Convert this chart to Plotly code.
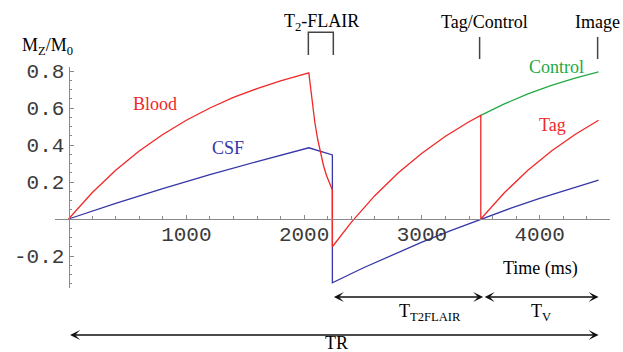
import plotly.graph_objects as go

# ---- data ----
blood_rise_t = [0, 200, 400, 600, 800, 1000, 1200, 1400, 1600, 1800, 2040]
blood_rise_m = [0.0, 0.142, 0.263, 0.368, 0.457, 0.534, 0.600, 0.657, 0.705, 0.747, 0.790]
blood_flair_t = [2040, 2065, 2090, 2115, 2140, 2165, 2190, 2215, 2240]
blood_flair_m = [0.790, 0.645, 0.527, 0.431, 0.352, 0.288, 0.235, 0.192, 0.157]
blood_rec_t = [2240, 2400, 2600, 2800, 3000, 3200, 3400, 3500]
blood_rec_m = [-0.150, -0.018, 0.126, 0.250, 0.356, 0.447, 0.526, 0.560]
tag_t = [3500, 3700, 3900, 4100, 4300, 4500]
tag_m = [0.0, 0.142, 0.263, 0.368, 0.457, 0.534]
control_t = [3500, 3700, 3900, 4100, 4300, 4500]
control_m = [0.560, 0.622, 0.676, 0.722, 0.761, 0.795]
csf_rise_t = [0, 400, 800, 1200, 1600, 2040, 2240]
csf_rise_m = [0.0, 0.085, 0.164, 0.240, 0.310, 0.385, 0.346]
csf_rec_t = [2240, 2500, 2750, 3000, 3250, 3500, 3750, 4000, 4250, 4500]
csf_rec_m = [-0.345, -0.265, -0.193, -0.125, -0.061, 0.0, 0.057, 0.111, 0.162, 0.210]

x_ticks = [1000, 2000, 3000, 4000]
x_ticklabels = ["1000", "2000", "3000", "4000"]
y_ticks = [-0.2, 0.2, 0.4, 0.6, 0.8]
y_ticklabels = ["-0.2", "0.2", "0.4", "0.6", "0.8"]

RED = "#f02828"
BLUE = "#3636a8"
GREEN = "#22aa44"

blood_t = blood_rise_t + blood_flair_t[1:] + blood_rec_t + tag_t
blood_m = blood_rise_m + blood_flair_m[1:] + blood_rec_m + tag_m
csf_t = csf_rise_t + csf_rec_t
csf_m = csf_rise_m + csf_rec_m

fig = go.Figure()
fig.add_trace(go.Scatter(x=csf_t, y=csf_m, mode="lines",
                         line=dict(color=BLUE, width=1.3), hoverinfo="skip"))
fig.add_trace(go.Scatter(x=blood_t, y=blood_m, mode="lines",
                         line=dict(color=RED, width=1.3), hoverinfo="skip"))
fig.add_trace(go.Scatter(x=control_t, y=control_m, mode="lines",
                         line=dict(color=GREEN, width=1.3), hoverinfo="skip"))

XR = [-115, 4597]
YR = [-0.373, 0.8216]
tickfont = dict(family="Liberation Mono, Courier New, monospace", size=21, color="#3a3a3a")
AX = "#8a8a8a"

x_minor = [v for v in range(200, 4600, 200) if v % 1000 != 0]
y_minor = [round(-0.35 + 0.05 * i, 2) for i in range(24)]
y_minor = [v for v in y_minor if abs(round(v * 5) - v * 5) > 1e-6]

fig.update_layout(
    width=623, height=352,
    margin=dict(l=55, r=13, t=67, b=64, autoexpand=False),
    paper_bgcolor="white", plot_bgcolor="white",
    showlegend=False,
    xaxis=dict(range=XR, anchor="free", position=(0 - YR[0]) / (YR[1] - YR[0]),
               automargin=False,
               showline=True, linecolor=AX, linewidth=1, showgrid=False, zeroline=False,
               ticks="inside", ticklen=4, tickcolor=AX, tickwidth=1,
               tickmode="array", tickvals=x_ticks, ticktext=x_ticklabels,
               tickfont=tickfont, ticklabelstandoff=-4,
               minor=dict(ticks="inside", ticklen=2.5, tickcolor=AX, tickvals=x_minor)),
    yaxis=dict(range=YR, anchor="free", position=(0 - XR[0]) / (XR[1] - XR[0]),
               automargin=False,
               showline=True, linecolor=AX, linewidth=1, showgrid=False, zeroline=False,
               ticks="inside", ticklen=4, tickcolor=AX, tickwidth=1,
               tickmode="array", tickvals=y_ticks, ticktext=y_ticklabels,
               tickfont=tickfont,
               minor=dict(ticks="inside", ticklen=2.5, tickcolor=AX, tickvals=y_minor)),
)

serif = "Liberation Serif, Times New Roman, serif"

def label(text, x, y, color="black", xref="x", yref="y", size=18):
    fig.add_annotation(text=text, x=x, y=y, xref=xref, yref=yref, showarrow=False,
                       xanchor="center", yanchor="middle",
                       font=dict(family=serif, size=size, color=color))

label("Blood", 734, 0.622, RED)
label("CSF", 1354, 0.384, BLUE)
label("Tag", 4113, 0.508, RED)
label("Time (ms)", 4011, -0.270)
label("Control", 0.9045, 1.0, GREEN, xref="paper", yref="paper")
label("M<sub>Z</sub>/M<sub>0</sub>", -0.0144, 1.0905, xref="paper", yref="paper")
label("T<sub>2</sub>-FLAIR", 0.481, 1.2036, xref="paper", yref="paper")
label("Tag/Control", 0.773, 1.2036, xref="paper", yref="paper")
label("Image", 0.978, 1.2036, xref="paper", yref="paper")
label("T<sub>T2FLAIR</sub>", 3070, -0.113, yref="paper")
label("T<sub>V</sub>", 4011, -0.113, yref="paper")
label("TR", 2271, -0.250, yref="paper")

# markers at the top
lc = dict(color="#444444", width=1.5)
fig.add_shape(type="path", xref="x", yref="paper",
              path="M 2036,1.054 L 2036,1.157 L 2248,1.157 L 2248,1.054", line=lc)
fig.add_shape(type="line", xref="x", yref="paper", x0=3490, x1=3490, y0=1.036, y1=1.136, line=lc)
fig.add_shape(type="line", xref="x", yref="paper", x0=4492, x1=4492, y0=1.036, y1=1.136, line=lc)

def darrow(x0, x1, y):
    fig.add_annotation(x=x1, y=y, xref="x", yref="paper", axref="x", ax=x0,
                       ayref="pixel", ay=0, text="", showarrow=True,
                       arrowhead=3, startarrowhead=3, arrowside="end+start",
                       arrowsize=1.2, startarrowsize=1.2, arrowwidth=1.4, arrowcolor="#111111")

darrow(2240, 3520, -0.0407)
darrow(3520, 4500, -0.0407)
darrow(0, 4500, -0.2127)

fig.write_html("out.html", config={"displayModeBar": False},
               post_script="document.body.style.margin='0';document.body.style.overflow='hidden';")
